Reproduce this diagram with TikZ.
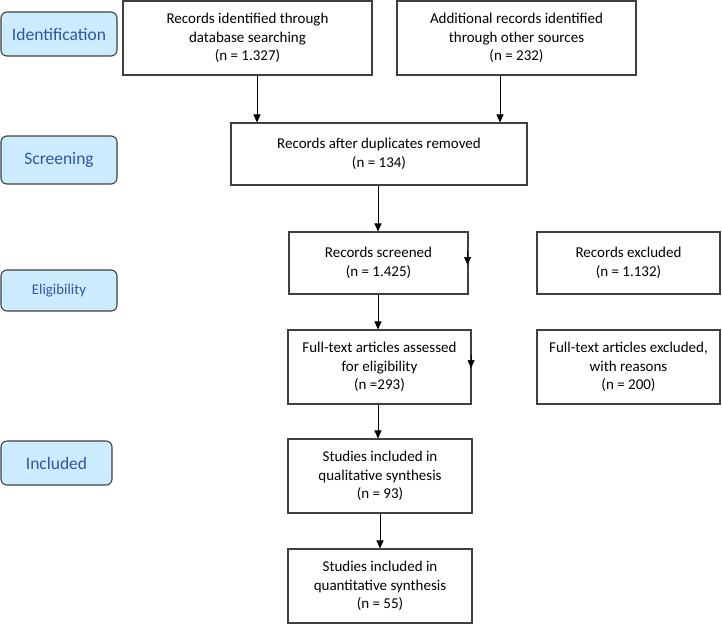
\documentclass[tikz,border=0pt]{standalone}
\usepackage{fontspec}
\setmainfont{Carlito}
\usetikzlibrary{arrows.meta}
\definecolor{lblfill}{HTML}{CCEBFC}
\definecolor{lbltext}{HTML}{2F55A4}
\definecolor{edge}{HTML}{404040}
\tikzset{
  box/.style={draw=edge, line width=1.1pt, fill=white, align=center, inner sep=2pt,
    font=\fontsize{15}{18.5}\selectfont},
  lbl/.style={draw=edge, line width=1.1pt, fill=lblfill, rounded corners=6pt,
    text=lbltext, align=center, font=\fontsize{17.5}{21}\selectfont},
  arr/.style={-{Triangle[length=8pt,width=7pt]}, line width=1pt, black},
}
\begin{document}
\begin{tikzpicture}[x=1pt,y=-1pt]
\useasboundingbox[fill=white] (0,0) rectangle (722,625);
% stage labels
\node[lbl, minimum width=116pt, minimum height=44pt] (lid) at (59,34) {Identification};
\node[lbl, minimum width=116pt, minimum height=48pt] (lscr) at (59,160) {Screening};
\node[lbl, minimum width=116pt, minimum height=41pt, font=\fontsize{14.8}{18}\selectfont] (lel) at (59,290.5) {Eligibility};
\node[lbl, minimum width=111pt, minimum height=44pt] (lin) at (56.5,463) {Included};
% boxes
\node[box, minimum width=249pt, minimum height=74pt] (b1) at (247.5,38) {Records identified through\\database searching\\(n = 1.327)};
\node[box, minimum width=239pt, minimum height=74pt] (b2) at (516.5,38) {Additional records identified\\through other sources\\(n = 232)};
\node[box, minimum width=296pt, minimum height=62pt] (b3) at (379,154) {Records after duplicates removed\\(n = 134)};
\node[box, minimum width=179pt, minimum height=62pt] (b4) at (378.5,263) {Records screened\\(n = 1.425)};
\node[box, minimum width=183pt, minimum height=62pt] (e1) at (628.5,263) {Records excluded\\(n = 1.132)};
\node[box, minimum width=183pt, minimum height=74pt] (b5) at (379.5,367) {Full-text articles assessed\\for eligibility\\(n =293)};
\node[box, minimum width=183pt, minimum height=74pt] (e2) at (628.5,367) {Full-text articles excluded,\\with reasons\\(n = 200)};
\node[box, minimum width=184pt, minimum height=74pt] (b6) at (380,476) {Studies included in\\qualitative synthesis\\(n = 93)};
\node[box, minimum width=184pt, minimum height=74pt] (b7) at (380,586) {Studies included in\\quantitative synthesis\\(n = 55)};
% connectors
\draw[arr] ([xshift=9.5pt]b1.south) -- ([xshift=9.5pt]b1.south |- b3.north);
\draw[arr] ([xshift=-16.5pt]b2.south) -- ([xshift=-16.5pt]b2.south |- b3.north);
\draw[arr] ([xshift=-1pt]b3.south) -- ([xshift=-1pt]b3.south |- b4.north);
\draw[arr] ([xshift=-0.5pt]b4.south) -- ([xshift=-0.5pt]b4.south |- b5.north);
\draw[arr] ([xshift=-1.5pt]b5.south) -- ([xshift=-1.5pt]b5.south |- b6.north);
\draw[arr] (b6.south) -- (b7.north);
% stub arrowheads on the right edges, pointing down
\coordinate (s1a) at ([xshift=-1pt,yshift=12pt]b4.east);
\coordinate (s1b) at ([xshift=-1pt,yshift=-2pt]b4.east);
\draw[arr, line width=0.6pt] (s1a) -- (s1b);
\coordinate (s2a) at ([xshift=-0.5pt,yshift=12pt]b5.east);
\coordinate (s2b) at ([xshift=-0.5pt,yshift=-1pt]b5.east);
\draw[arr, line width=0.6pt] (s2a) -- (s2b);
\end{tikzpicture}
\end{document}
